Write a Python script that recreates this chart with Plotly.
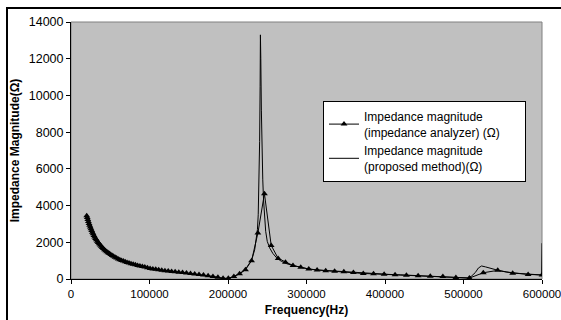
import plotly.graph_objects as go

# Impedance analyzer measurements (markers)
analyzer_freq = [20000, 20700, 21420, 22170, 22950, 23750, 24580, 25440, 26330, 27260,
                 28210, 29200, 30220, 31280, 32370, 33500, 34680, 35890, 37150, 38450,
                 39790, 41180, 42630, 44120, 45660, 47260, 48910, 50620, 52400, 54230,
                 56130, 58090, 60130, 62230, 64410, 66660, 69000, 71410, 73910, 76500,
                 79180, 81950, 84820, 87790, 90860, 94040, 97330, 100740, 104260, 107910,
                 111690, 115600, 119650, 123840, 128170, 132660, 137300, 142100, 147080, 152230,
                 157550, 163070, 168780, 174680, 180800, 187130, 193680, 200450, 207470, 214730,
                 222250, 230030, 238080, 246410, 255030, 263960, 273200, 282760, 292660, 302900,
                 313500, 324470, 335830, 347580, 359750, 372340, 385370, 398860, 412820, 427270,
                 442220, 457700, 473720, 490300, 507460, 525220, 543600, 562630, 582320, 600000]
analyzer_mag = [3450, 3350, 3240, 3130, 3030, 2930, 2830, 2735, 2640, 2550,
                2460, 2375, 2290, 2210, 2135, 2060, 1990, 1920, 1850, 1785,
                1720, 1660, 1600, 1545, 1490, 1435, 1385, 1335, 1285, 1235,
                1190, 1140, 1090, 1050, 1010, 975, 940, 905, 870, 835,
                800, 770, 740, 710, 680, 650, 610, 575, 550, 525,
                500, 475, 450, 430, 410, 390, 370, 350, 325, 300,
                275, 250, 215, 180, 140, 90, 35, 40, 130, 280,
                500, 1000, 2500, 4650, 1830, 1120, 917, 737, 644, 540,
                490, 450, 420, 390, 350, 300, 280, 255, 235, 200,
                175, 150, 130, 80, 50, 340, 470, 320, 250, 220]

# Proposed method (line)
proposed_freq = [20000, 21000, 22000, 23500, 25000, 27000, 29000, 31000, 33000, 35000,
                 37500, 40000, 43000, 46000, 50000, 54000, 58000, 62000, 66000, 70000,
                 75000, 80000, 85000, 90000, 95000, 100000, 110000, 120000, 130000, 140000,
                 150000, 160000, 170000, 180000, 188000, 194000, 199000, 204000, 209000, 214000,
                 219000, 224000, 228000, 231000, 234000, 236000, 237500, 238500, 239500, 240300,
                 240900, 241300, 241800, 242500, 243300, 244300, 245300, 246500, 248000, 250000,
                 253000, 257000, 262000, 268000, 275000, 283000, 292000, 302000, 315000, 330000,
                 345000, 360000, 375000, 390000, 405000, 420000, 435000, 450000, 465000, 480000,
                 495000, 505000, 510000, 515000, 519000, 523000, 528000, 535000, 545000, 555000,
                 565000, 580000, 595000, 599500, 600000]
proposed_mag = [3550, 3360, 3200, 2990, 2800, 2590, 2400, 2240, 2090, 1960,
                1830, 1700, 1570, 1470, 1350, 1245, 1150, 1060, 985, 920,
                855, 790, 738, 688, 640, 580, 505, 450, 400, 358,
                310, 262, 208, 145, 80, 30, 30, 80, 170, 280,
                430, 640, 900, 1150, 1600, 2100, 2700, 3500, 5000, 7500,
                10500, 13300, 12000, 9200, 6800, 5400, 4300, 3400, 2600, 2050,
                1700, 1400, 1150, 960, 830, 730, 650, 550, 490, 445,
                405, 360, 300, 275, 250, 225, 190, 160, 140, 115,
                75, 60, 150, 350, 600, 710, 660, 560, 460, 380,
                320, 260, 225, 220, 1950]

x_ticks = [0, 100000, 200000, 300000, 400000, 500000, 600000]
y_ticks = [0, 2000, 4000, 6000, 8000, 10000, 12000, 14000]

FONT = "Liberation Sans, Arial, sans-serif"
PAD = "\u00a0" * 6

fig = go.Figure()
fig.add_trace(go.Scatter(
    x=analyzer_freq, y=analyzer_mag, mode="lines+markers",
    name="Impedance magnitude<br>(impedance analyzer) (\u03a9)" + PAD,
    line=dict(color="black", width=1),
    marker=dict(symbol="triangle-up", size=6, color="black"),
))
fig.add_trace(go.Scatter(
    x=proposed_freq, y=proposed_mag, mode="lines",
    name="Impedance magnitude<br>(proposed method)(\u03a9)",
    line=dict(color="black", width=1),
))

L, R, T, B = 71, 19, 22, 41
W, H = 561, 320
pw, ph = W - L - R, H - T - B

def px_x(px):
    return (px - L) / pw

def px_y(py):
    return (H - B - py) / ph

fig.update_layout(
    width=W, height=H,
    margin=dict(l=L, r=R, t=T, b=B, autoexpand=False),
    paper_bgcolor="white",
    plot_bgcolor="#C0C0C0",
    font=dict(family=FONT, size=12, color="black"),
    showlegend=True,
    legend=dict(
        x=px_x(323), y=px_y(101), xanchor="left", yanchor="top",
        bgcolor="white", bordercolor="black", borderwidth=1,
        font=dict(family=FONT, size=12, color="black"),
        tracegroupgap=0, itemwidth=30,
    ),
    xaxis=dict(
        range=[0, 600000], tickvals=x_ticks, ticktext=[str(v) for v in x_ticks],
        showgrid=False, zeroline=False, automargin=False,
        showline=True, linecolor="black", linewidth=1,
        ticks="outside", ticklen=4, tickcolor="black",
        ticklabeloverflow="allow",
        tickfont=dict(family=FONT, size=11.5),
        title=dict(text="<b>Frequency(Hz)</b>", font=dict(family=FONT, size=12), standoff=6),
    ),
    yaxis=dict(
        range=[0, 14000], tickvals=y_ticks, ticktext=[str(v) for v in y_ticks],
        showgrid=False, zeroline=False, automargin=False,
        showline=True, linecolor="black", linewidth=1,
        ticks="outside", ticklen=4, tickcolor="black",
        tickfont=dict(family=FONT, size=12.5),
        title=dict(text="<b>Impedance Magnitude(\u03a9)</b>", font=dict(family=FONT, size=12), standoff=6),
    ),
    shapes=[
        dict(type="rect", xref="paper", yref="paper", x0=0, x1=1, y0=0, y1=1,
             line=dict(color="#808080", width=1), layer="below"),
        dict(type="rect", xref="paper", yref="paper",
             x0=px_x(7), x1=px_x(700), y0=px_y(500), y1=px_y(8),
             line=dict(color="black", width=2), fillcolor="rgba(0,0,0,0)", layer="above"),
    ],
)

fig.write_html("out.html", config={"displayModeBar": False},
               post_script="document.body.style.margin='0';document.body.style.overflow='hidden';")
